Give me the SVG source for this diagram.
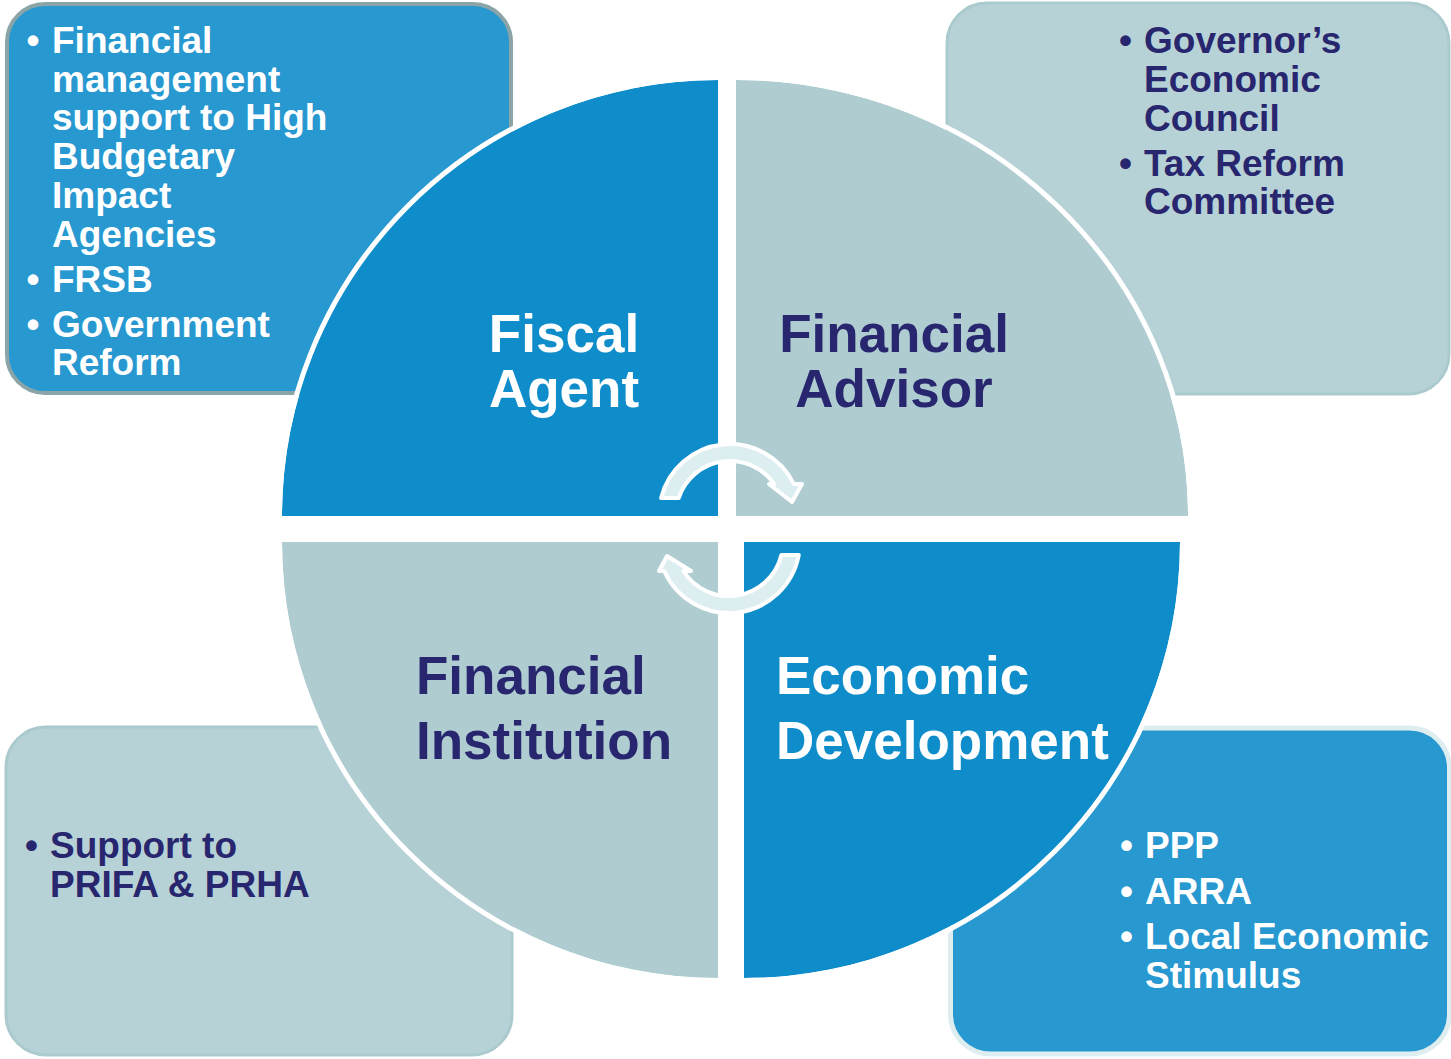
<svg xmlns="http://www.w3.org/2000/svg" width="1451" height="1059" viewBox="0 0 1451 1059">
  <style>
    text { font-family: "Liberation Sans", Arial, sans-serif; font-weight: bold; }
    .item { font-size: 37px; }
    .head { font-size: 53px; }
    .white { fill: #ffffff; }
    .navy { fill: #28266e; }
    .box-blue { fill: #2798d0; }
    .box-light { fill: #b6d2d6; }
    .q-blue { fill: #0f8dcb; }
    .q-light { fill: #afcdd1; }
    .rim { fill: none; stroke: #ffffff; stroke-width: 5; }
    .cycle { fill: #ddeef1; stroke: #ffffff; stroke-width: 4; stroke-linejoin: round; }
  </style>

  <rect width="1451" height="1059" fill="#ffffff"/>

  <!-- corner boxes with bullet lists -->
  <g id="box-fiscal-agent">
    <rect x="7" y="4" width="504" height="389" rx="38" class="box-blue" stroke="#8ba4a8" stroke-width="4"/>
  </g>
  <g id="box-financial-advisor">
    <rect x="947" y="3" width="502" height="391" rx="40" class="box-light" stroke="#abcace" stroke-width="3"/>
  </g>
  <g id="box-financial-institution">
    <rect x="6" y="727" width="506" height="328" rx="40" class="box-light" stroke="#abcace" stroke-width="3"/>
  </g>
  <g id="box-economic-development">
    <rect x="950.5" y="728" width="499" height="326" rx="40" class="box-blue" stroke="#ddedf0" stroke-width="5"/>
  </g>

  <!-- four quadrants of the central disc, each with a white rim on its curved edge -->
  <g id="quadrant-fiscal-agent">
    <path d="M718,516 L282,516 A436,436 0 0 1 718,80 Z" class="q-blue"/>
    <path d="M279.5,516 A438.5,438.5 0 0 1 718,77.5" class="rim"/>
  </g>
  <g id="quadrant-financial-advisor">
    <path d="M736,516 L736,80 A452,436 0 0 1 1188,516 Z" class="q-light"/>
    <path d="M736,77.5 A454.5,438.5 0 0 1 1190.5,516" class="rim"/>
  </g>
  <g id="quadrant-financial-institution">
    <path d="M718,542 L718,978 A436,436 0 0 1 282,542 Z" class="q-light"/>
    <path d="M718,980.5 A438.5,438.5 0 0 1 279.5,542" class="rim"/>
  </g>
  <g id="quadrant-economic-development">
    <path d="M744,542 L1180,542 A436,436 0 0 1 744,978 Z" class="q-blue"/>
    <path d="M1182.5,542 A438.5,438.5 0 0 1 744,980.5" class="rim"/>
  </g>

  <!-- circular arrows in the middle -->
  <g id="connectors">
    <path class="cycle" d="M661.1,498 A71,71 0 0 1 793.9,484 L802,484 L792,502 L769,484 L774.2,484 A54,54 0 0 0 678.7,498 Z"/>
    <path class="cycle" d="M798.8,555 A71,71 0 0 1 664.2,571 L659,571 L667,556 L691,571 L683.4,571 A54,54 0 0 0 781.4,555 Z"/>
  </g>

  <!-- quadrant titles -->
  <g id="label-fiscal-agent" class="white">
    <text class="head" x="564" y="352" text-anchor="middle">Fiscal</text>
    <text class="head" x="564" y="407" text-anchor="middle">Agent</text>
  </g>
  <g id="label-financial-advisor" class="navy">
    <text class="head" x="894" y="352" text-anchor="middle">Financial</text>
    <text class="head" x="894" y="407" text-anchor="middle">Advisor</text>
  </g>
  <g id="label-financial-institution" class="navy">
    <text class="head" x="416" y="694">Financial</text>
    <text class="head" x="416" y="759">Institution</text>
  </g>
  <g id="label-economic-development" class="white">
    <text class="head" x="776" y="694">Economic</text>
    <text class="head" x="776" y="759">Development</text>
  </g>

  <!-- bullet lists -->
  <g id="list-fiscal-agent" class="white">
    <text class="item" x="26.5" y="53">•</text>
    <text class="item" x="52" y="53">Financial</text>
    <text class="item" x="52" y="92">management</text>
    <text class="item" x="52" y="130">support to High</text>
    <text class="item" x="52" y="169">Budgetary</text>
    <text class="item" x="52" y="208">Impact</text>
    <text class="item" x="52" y="247">Agencies</text>
    <text class="item" x="26.5" y="292">•</text>
    <text class="item" x="52" y="292">FRSB</text>
    <text class="item" x="26.5" y="337">•</text>
    <text class="item" x="52" y="337">Government</text>
    <text class="item" x="52" y="375">Reform</text>
  </g>
  <g id="list-financial-advisor" class="navy">
    <text class="item" x="1119" y="53">•</text>
    <text class="item" x="1144" y="53">Governor’s</text>
    <text class="item" x="1144" y="92">Economic</text>
    <text class="item" x="1144" y="131">Council</text>
    <text class="item" x="1119" y="176">•</text>
    <text class="item" x="1144" y="176">Tax Reform</text>
    <text class="item" x="1144" y="214">Committee</text>
  </g>
  <g id="list-financial-institution" class="navy">
    <text class="item" x="25" y="858">•</text>
    <text class="item" x="50" y="858">Support to</text>
    <text class="item" x="50" y="897">PRIFA &amp; PRHA</text>
  </g>
  <g id="list-economic-development" class="white">
    <text class="item" x="1120" y="858">•</text>
    <text class="item" x="1145" y="858">PPP</text>
    <text class="item" x="1120" y="904">•</text>
    <text class="item" x="1145" y="904">ARRA</text>
    <text class="item" x="1120" y="949">•</text>
    <text class="item" x="1145" y="949">Local Economic</text>
    <text class="item" x="1145" y="988">Stimulus</text>
  </g>
</svg>
